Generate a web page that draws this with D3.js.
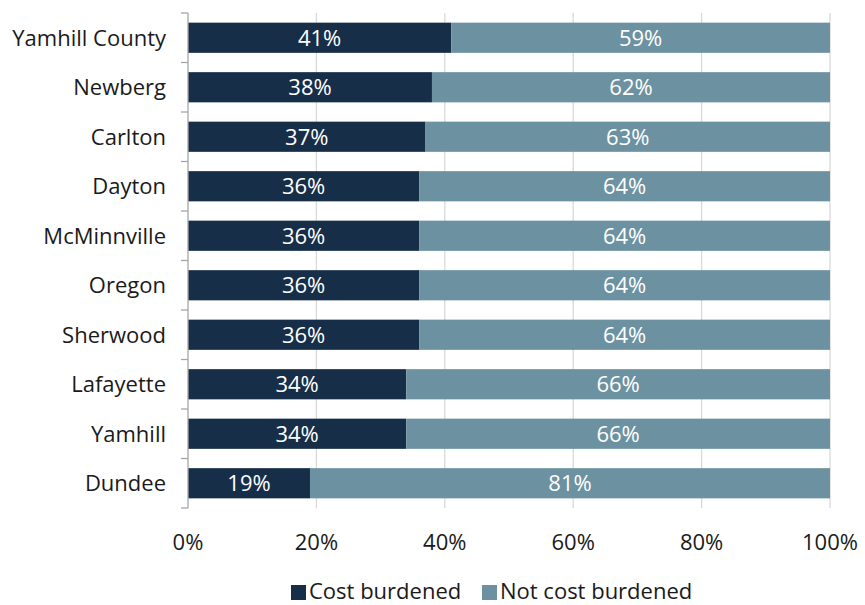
<!DOCTYPE html>
<html>
<head>
<meta charset="utf-8">
<script src="https://cdn.jsdelivr.net/npm/d3@7"></script>
<style>
  html, body { margin: 0; padding: 0; background: #fff; }
  svg text { font-family: "Open Sans", "Noto Sans", sans-serif; }
</style>
</head>
<body>
<svg id="chart" width="865" height="605"></svg>
<script>
// Share of households by cost burden status
const places = ["Yamhill County", "Newberg", "Carlton", "Dayton", "McMinnville",
                "Oregon", "Sherwood", "Lafayette", "Yamhill", "Dundee"];
const costBurdened = [41, 38, 37, 36, 36, 36, 36, 34, 34, 19];
const notCostBurdened = [59, 62, 63, 64, 64, 64, 64, 66, 66, 81];
const xTicks = [0, 20, 40, 60, 80, 100];
const seriesNames = ["Cost burdened", "Not cost burdened"];
const colors = ["#172e48", "#6c92a2"];

const svg = d3.select("#chart");
const plotLeft = 188, plotRight = 830, plotTop = 13, plotBottom = 508;
const fontSize = 22;

const x = d3.scaleLinear().domain([0, 100]).range([plotLeft, plotRight]);
const y = d3.scaleBand().domain(places).range([plotTop, plotBottom]).paddingInner(0.39).paddingOuter(0.195);

const rows = places.map((p, i) => ({ place: p, values: [costBurdened[i], notCostBurdened[i]] }));
const stack = d3.stack().keys([0, 1]).value((d, k) => d.values[k]);
const layers = stack(rows);

// vertical gridlines
svg.append("g").selectAll("line").data(xTicks.filter(t => t > 0)).join("line")
  .attr("x1", d => x(d)).attr("x2", d => x(d))
  .attr("y1", plotTop).attr("y2", plotBottom)
  .attr("stroke", "#d9d9d9").attr("stroke-width", 1.3);

// stacked bars
layers.forEach((layer, k) => {
  const g = svg.append("g");
  g.selectAll("rect").data(layer).join("rect")
    .attr("x", d => x(d[0]))
    .attr("width", d => x(d[1]) - x(d[0]))
    .attr("y", d => y(d.data.place))
    .attr("height", y.bandwidth())
    .attr("fill", colors[k]);
  g.selectAll("text").data(layer).join("text")
    .attr("x", d => (x(d[0]) + x(d[1])) / 2)
    .attr("y", d => y(d.data.place) + y.bandwidth() / 2)
    .attr("dy", "0.36em")
    .attr("text-anchor", "middle")
    .attr("fill", "#ffffff")
    .attr("font-size", fontSize)
    .text(d => (d[1] - d[0]) + "%");
});

// category axis with ticks between bands
const yAxis = svg.append("g");
yAxis.append("line").attr("x1", plotLeft).attr("x2", plotLeft).attr("y1", plotTop).attr("y2", plotBottom)
  .attr("stroke", "#a6a6a6").attr("stroke-width", 1.3);
const boundaries = d3.range(places.length + 1).map(i => plotTop + i * (plotBottom - plotTop) / places.length);
yAxis.selectAll("line.tick").data(boundaries).join("line").attr("class", "tick")
  .attr("x1", plotLeft - 7).attr("x2", plotLeft).attr("y1", d => d).attr("y2", d => d)
  .attr("stroke", "#a6a6a6").attr("stroke-width", 1.3);
yAxis.selectAll("text").data(places).join("text")
  .attr("x", plotLeft - 22)
  .attr("y", d => y(d) + y.bandwidth() / 2)
  .attr("dy", "0.36em")
  .attr("text-anchor", "end")
  .attr("fill", "#1a1a1a")
  .attr("font-size", fontSize)
  .text(d => d);

// value axis labels
svg.append("g").selectAll("text").data(xTicks).join("text")
  .attr("x", d => x(d))
  .attr("y", 542)
  .attr("dy", "0.36em")
  .attr("text-anchor", "middle")
  .attr("fill", "#1a1a1a")
  .attr("font-size", fontSize)
  .text(d => d + "%");

// legend
const legend = svg.append("g");
const legendItems = [{ x: 291, name: seriesNames[0], c: colors[0] }, { x: 482, name: seriesNames[1], c: colors[1] }];
legendItems.forEach(it => {
  legend.append("rect").attr("x", it.x).attr("y", 585).attr("width", 15).attr("height", 15).attr("fill", it.c);
  legend.append("text").attr("x", it.x + 18).attr("y", 591).attr("dy", "0.36em")
    .attr("font-size", fontSize).attr("fill", "#1a1a1a").text(it.name);
});
</script>
</body>
</html>
